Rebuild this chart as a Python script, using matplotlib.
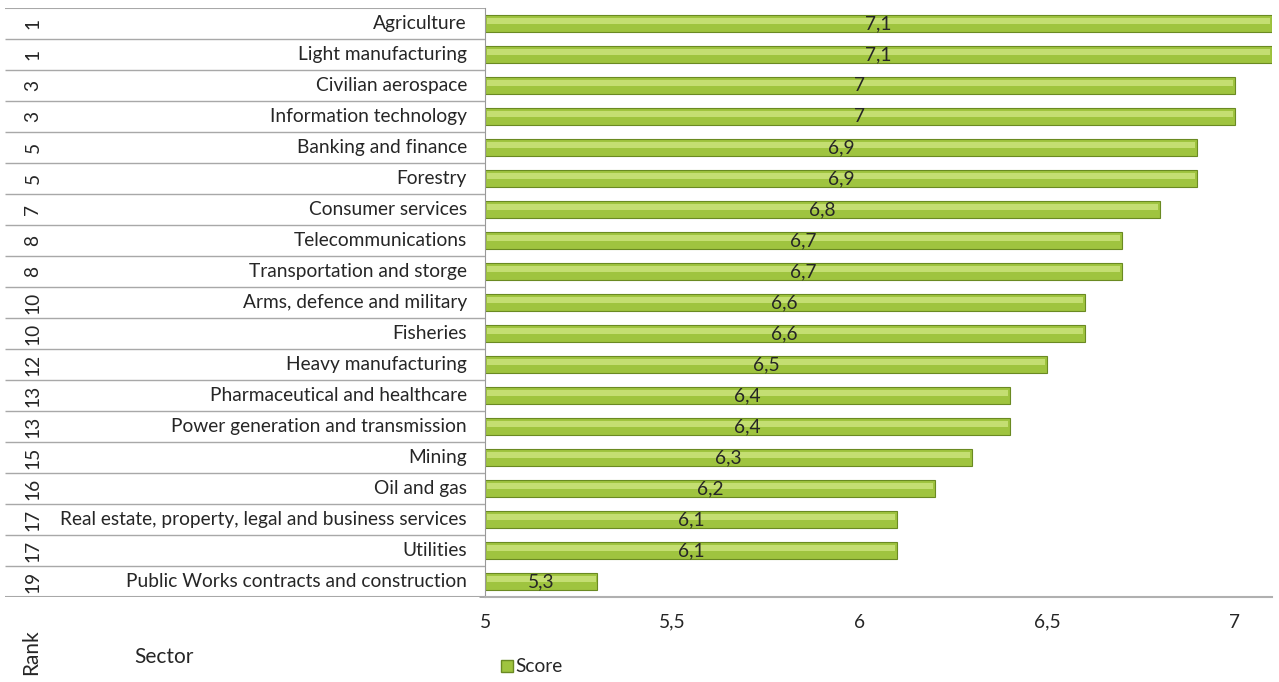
import matplotlib.pyplot as plt
import numpy as np

plt.rcParams['font.family'] = ['Lato', 'DejaVu Sans']

ranks = [1, 1, 3, 3, 5, 5, 7, 8, 8, 10, 10, 12, 13, 13, 15, 16, 17, 17, 19]
sectors = [
    "Agriculture",
    "Light manufacturing",
    "Civilian aerospace",
    "Information technology",
    "Banking and finance",
    "Forestry",
    "Consumer services",
    "Telecommunications",
    "Transportation and storge",
    "Arms, defence and military",
    "Fisheries",
    "Heavy manufacturing",
    "Pharmaceutical and healthcare",
    "Power generation and transmission",
    "Mining",
    "Oil and gas",
    "Real estate, property, legal and business services",
    "Utilities",
    "Public Works contracts and construction",
]
scores = [7.1, 7.1, 7.0, 7.0, 6.9, 6.9, 6.8, 6.7, 6.7, 6.6, 6.6, 6.5, 6.4, 6.4, 6.3, 6.2, 6.1, 6.1, 5.3]
xticks = [5, 5.5, 6, 6.5, 7]


def fmt(v):
    return ('%g' % v).replace('.', ',')


W, H = 1279, 682
fig = plt.figure(figsize=(W / 100, H / 100), dpi=100)


def fx(px):
    return px / W


def fy(py):
    return 1 - py / H


txt = '#262626'
fs = 13.8

ax = fig.add_axes([fx(485), fy(597), fx(1272) - fx(485), fy(8) - fy(597)])
n = len(sectors)
y = np.arange(n)
xmin = 5
ax.barh(y, np.array(scores) - xmin, left=xmin, height=0.55,
        color='#9fc43f', edgecolor='#6a8a22', linewidth=0.8, zorder=2)
# lighter stripe to mimic the glossy gradient
ax.barh(y - 0.07, np.array(scores) - xmin - 0.01, left=xmin + 0.005, height=0.2,
        color='#c4de72', linewidth=0, zorder=3)

for yi, v in zip(y, scores):
    ax.text((xmin + v) / 2, yi, fmt(v), ha='center', va='center',
            fontsize=fs, color=txt, zorder=4)

ax.set_xlim(5, 7.1)
ax.set_ylim(n - 0.5, -0.5)
ax.set_xticks(xticks)
ax.set_xticklabels([fmt(t) for t in xticks], fontsize=fs, color=txt)
ax.tick_params(axis='x', length=0, pad=12)
ax.set_yticks([])
ax.set_yticks(np.arange(n + 1) - 0.5, minor=True)
ax.tick_params(axis='y', which='minor', length=4, color='#999999', direction='out')
for s in ['top', 'right']:
    ax.spines[s].set_visible(False)
ax.spines['left'].set_color('#999999')
ax.spines['bottom'].set_color('#b0b0b0')
ax.spines['bottom'].set_linewidth(1.5)

# left table: rank + sector
tab = fig.add_axes([fx(5), fy(597), fx(485) - fx(5), fy(8) - fy(597)])
tab.set_xlim(5, 485)
tab.set_ylim(n - 0.5, -0.5)
tab.axis('off')
for b in np.arange(n + 1) - 0.5:
    tab.plot([5, 485], [b, b], color='#a8a8a8', lw=1.5 if b in (-0.5, n - 0.5) else 1.0,
             solid_capstyle='butt')
for yi, r, s in zip(y, ranks, sectors):
    tab.text(33, yi, str(r), rotation=90, ha='center', va='center',
             fontsize=fs, color=txt)
    tab.text(467, yi, s, ha='right', va='center', fontsize=fs, color=txt)

fig.text(fx(31), fy(652), 'Rank', rotation=90, ha='center', va='center',
         fontsize=15, color=txt)
fig.text(fx(134), fy(657), 'Sector', ha='left', va='center',
         fontsize=15, color=txt)

leg_handle = plt.Rectangle((0, 0), 1, 1, facecolor='#9fc43f', edgecolor='#6a8a22')
fig.legend([leg_handle], ['Score'], loc='center left',
           bbox_to_anchor=(fx(484), fy(667)), frameon=False, fontsize=fs,
           handlelength=0.6, handleheight=0.6, handletextpad=0.15,
           labelcolor=txt)

fig.savefig('out.png', dpi=100)
